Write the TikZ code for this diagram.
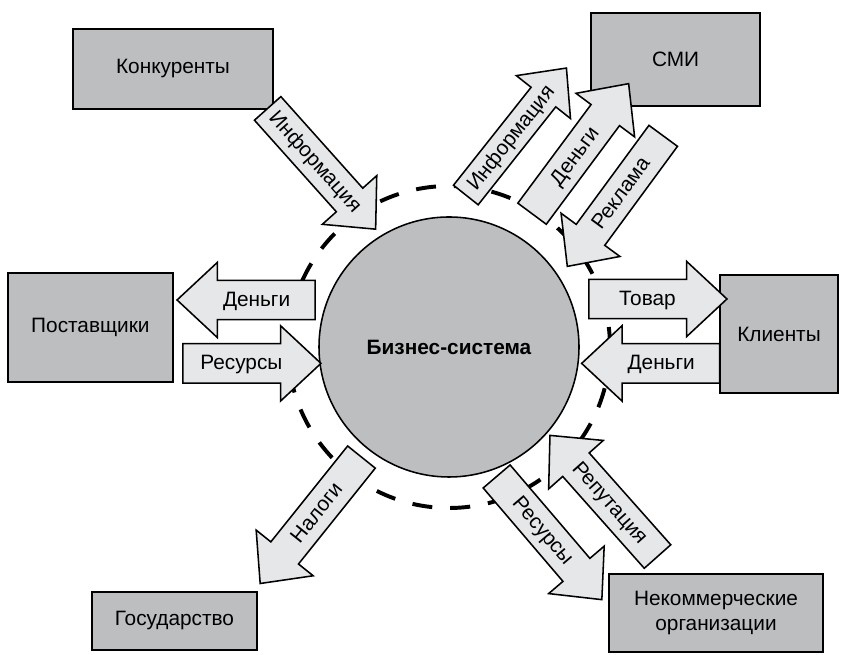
\documentclass[tikz,border=0pt]{standalone}
\usepackage{fontspec}
\setmainfont{Liberation Sans}
\usetikzlibrary{shapes.arrows}
\definecolor{boxgray}{HTML}{BCBEC0}
\definecolor{arrowgray}{HTML}{E6E7E8}

\begin{document}
\begin{tikzpicture}[
  font=\fontsize{14.8}{17.5}\selectfont,
  box/.style = {draw, line width=1.4pt, fill=boxgray, align=center, inner sep=0pt},
  flow/.style = {single arrow, draw, line width=1.1pt, fill=arrowgray,
    inner xsep=1pt, inner ysep=0pt, text height=17.95pt, text depth=8.95pt,
    minimum height=3.45cm, minimum width=0pt, single arrow head extend=0.45cm,
    single arrow tip angle=86},
  diag/.style = {flow, minimum height=4.05cm, text height=16.55pt, text depth=7.55pt,
    single arrow head extend=0.47cm},
  back/.style = {shape border rotate=180}
]
\useasboundingbox (0,0) rectangle (21.1,16.375);
% system boundary
\draw [line width=2.8pt, dash pattern=on 0.5cm off 0.45cm] (11.225,7.7) circle (4.025);
\node [circle, draw, line width=1.1pt, fill=boxgray, minimum size=6.5cm, font=\fontsize{14.8}{17.5}\selectfont\bfseries] (bs) at (11.225,7.7) {Бизнес-система};
% partners
\node [box, minimum width=5cm, minimum height=2cm] (konk) at (4.325,14.65) {Конкуренты};
\node [box, minimum width=4.225cm, minimum height=2.325cm] (smi) at (16.89,14.89) {СМИ};
\node [box, minimum width=4.125cm, minimum height=2.725cm] (post) at (2.26,8.19) {Поставщики};
\node [box, minimum width=2.95cm, minimum height=2.95cm] (klient) at (19.475,8.025) {Клиенты};
\node [box, minimum width=4.125cm, minimum height=1.45cm] (gos) at (4.36,0.85) {Государство};
\node [box, minimum width=5.35cm, minimum height=1.95cm] (nko) at (17.9,1.05) {Некоммерческие\\организации};
% flows
\node [flow, back] (money1) at (6.415,8.875) {Деньги};
\node [flow] (res1) at (6.035,7.29) {Ресурсы};
\node [flow] (goods) at (16.185,8.9) {Товар};
\node [flow, back] (money2) at (16.53,7.29) {Деньги};
\node [diag, rotate=-48.2] (info1) at (7.883,12.332) {Информация};
\node [diag, rotate=51.6, text height=15.15pt, text depth=6.15pt] (info2) at (12.772,12.921) {Информация};
\node [diag, rotate=53.4] (money3) at (14.367,12.467) {Деньги};
\node [diag, back, rotate=53.7] (ads) at (15.522,11.538) {Реклама};
\node [diag, back, rotate=51.3] (tax) at (7.919,3.553) {Налоги};
\node [diag, rotate=-49.5] (res2) at (13.577,3.104) {Ресурсы};
\node [diag, back, rotate=-48.4] (rep) at (15.251,3.798) {Репутация};
\end{tikzpicture}
\end{document}
